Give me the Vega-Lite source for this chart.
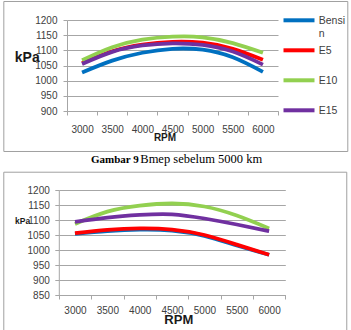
{
  "$schema": "https://vega.github.io/schema/vega-lite/v6.json",
  "padding": {"left": 3, "top": 0, "right": 3, "bottom": 0},
  "background": "white",
  "datasets": {
    "bmep_1": [
      {"rpm": 3000, "fuel": "Bensin", "kpa": 1027}, {"rpm": 3500, "fuel": "Bensin", "kpa": 1066}, {"rpm": 4000, "fuel": "Bensin", "kpa": 1092}, {"rpm": 4500, "fuel": "Bensin", "kpa": 1105}, {"rpm": 5000, "fuel": "Bensin", "kpa": 1102}, {"rpm": 5500, "fuel": "Bensin", "kpa": 1077}, {"rpm": 6000, "fuel": "Bensin", "kpa": 1029},
      {"rpm": 3000, "fuel": "E5", "kpa": 1058}, {"rpm": 3500, "fuel": "E5", "kpa": 1097}, {"rpm": 4000, "fuel": "E5", "kpa": 1119}, {"rpm": 4500, "fuel": "E5", "kpa": 1128}, {"rpm": 5000, "fuel": "E5", "kpa": 1125}, {"rpm": 5500, "fuel": "E5", "kpa": 1105}, {"rpm": 6000, "fuel": "E5", "kpa": 1069},
      {"rpm": 3000, "fuel": "E10", "kpa": 1067}, {"rpm": 3500, "fuel": "E10", "kpa": 1110}, {"rpm": 4000, "fuel": "E10", "kpa": 1135}, {"rpm": 4500, "fuel": "E10", "kpa": 1145}, {"rpm": 5000, "fuel": "E10", "kpa": 1143}, {"rpm": 5500, "fuel": "E10", "kpa": 1124}, {"rpm": 6000, "fuel": "E10", "kpa": 1092},
      {"rpm": 3000, "fuel": "E15", "kpa": 1055}, {"rpm": 3500, "fuel": "E15", "kpa": 1095}, {"rpm": 4000, "fuel": "E15", "kpa": 1116}, {"rpm": 4500, "fuel": "E15", "kpa": 1123}, {"rpm": 5000, "fuel": "E15", "kpa": 1118}, {"rpm": 5500, "fuel": "E15", "kpa": 1096}, {"rpm": 6000, "fuel": "E15", "kpa": 1053}
    ],
    "bmep_2": [
      {"rpm": 3000, "fuel": "Bensin", "kpa": 1054}, {"rpm": 3500, "fuel": "Bensin", "kpa": 1063}, {"rpm": 4000, "fuel": "Bensin", "kpa": 1068}, {"rpm": 4500, "fuel": "Bensin", "kpa": 1065}, {"rpm": 5000, "fuel": "Bensin", "kpa": 1047}, {"rpm": 5500, "fuel": "Bensin", "kpa": 1015}, {"rpm": 6000, "fuel": "Bensin", "kpa": 984},
      {"rpm": 3000, "fuel": "E5", "kpa": 1056}, {"rpm": 3500, "fuel": "E5", "kpa": 1067}, {"rpm": 4000, "fuel": "E5", "kpa": 1072}, {"rpm": 4500, "fuel": "E5", "kpa": 1068}, {"rpm": 5000, "fuel": "E5", "kpa": 1050}, {"rpm": 5500, "fuel": "E5", "kpa": 1018}, {"rpm": 6000, "fuel": "E5", "kpa": 984},
      {"rpm": 3000, "fuel": "E10", "kpa": 1087}, {"rpm": 3500, "fuel": "E10", "kpa": 1128}, {"rpm": 4000, "fuel": "E10", "kpa": 1148}, {"rpm": 4500, "fuel": "E10", "kpa": 1155}, {"rpm": 5000, "fuel": "E10", "kpa": 1145}, {"rpm": 5500, "fuel": "E10", "kpa": 1115}, {"rpm": 6000, "fuel": "E10", "kpa": 1072},
      {"rpm": 3000, "fuel": "E15", "kpa": 1094}, {"rpm": 3500, "fuel": "E15", "kpa": 1108}, {"rpm": 4000, "fuel": "E15", "kpa": 1117}, {"rpm": 4500, "fuel": "E15", "kpa": 1119}, {"rpm": 5000, "fuel": "E15", "kpa": 1105}, {"rpm": 5500, "fuel": "E15", "kpa": 1085}, {"rpm": 6000, "fuel": "E15", "kpa": 1063}
    ]
  },
  "spacing": 5,
  "vconcat": [
    {
      "width": 211,
      "height": 91,
      "layer": [
        {
          "data": {"values": [{}]},
          "mark": {"type": "rect", "fillOpacity": 0, "stroke": "#a0a0a0", "strokeWidth": 1},
          "encoding": {
            "x": {"datum": 1702, "type": "quantitative", "scale": {"domain": [2750, 6250], "nice": false, "zero": false},
              "axis": {"values": [2750, 3250, 3750, 4250, 4750, 5250, 5750, 6250], "labelExpr": "datum.value < 6000 ? format(datum.value + 250, 'd') : ''", "labelOffset": 15.07, "labelPadding": 9.5, "title": "RPM", "titleX": 97.5, "titleY": 29.6, "titleFontSize": 10}},
            "x2": {"datum": 7408},
            "y": {"datum": 1261, "type": "quantitative", "scale": {"domain": [900, 1200], "nice": false, "zero": false},
              "axis": {"values": [900, 950, 1000, 1050, 1100, 1150, 1200], "labelPadding": 6, "title": "kPa", "titleX": -52.7, "titleY": 41.7, "titleFontSize": 14}},
            "y2": {"datum": 766.5}
          }
        },
        {
          "data": {"name": "bmep_1"},
          "mark": {"type": "line", "interpolate": "natural", "strokeWidth": 3.8},
          "encoding": {
            "x": {"field": "rpm", "type": "quantitative", "scale": {"domain": [2750, 6250], "nice": false, "zero": false},
              "axis": {"values": [2750, 3250, 3750, 4250, 4750, 5250, 5750, 6250], "labelExpr": "datum.value < 6000 ? format(datum.value + 250, 'd') : ''", "labelOffset": 15.07, "labelPadding": 9.5, "title": "RPM", "titleX": 97.5, "titleY": 29.6, "titleFontSize": 10}},
            "y": {"field": "kpa", "type": "quantitative", "scale": {"domain": [900, 1200], "nice": false, "zero": false},
              "axis": {"values": [900, 950, 1000, 1050, 1100, 1150, 1200], "labelPadding": 6, "title": "kPa", "titleX": -52.7, "titleY": 41.7, "titleFontSize": 14}},
            "color": {
              "field": "fuel", "type": "nominal",
              "scale": {"domain": ["Bensin", "E5", "E10", "E15"], "range": ["#0070C0", "#FF0000", "#92D050", "#7030A0"]},
              "legend": {
                "orient": "none", "legendX": 222, "legendY": -9.7, "title": null, "padding": 0,
                "symbolType": "M-2,0H2", "symbolSize": 240.25, "symbolStrokeWidth": 4,
                "labelFont": "Liberation Sans", "labelFontSize": 10.5, "labelColor": "#404040", "labelOffset": 9.75,
                "labelBaseline": "alphabetic",
                "labelExpr": "datum.label == 'Bensin' ? ['Bensi', 'n'] : [datum.label, ' ']",
                "rowPadding": 0,
                "encode": {"labels": {"update": {"dy": {"value": 3.7}, "lineHeight": {"value": 12.85}}}}
              }
            }
          }
        },
        {
          "data": {"values": [{"caption": "Gambar 9"}]},
          "mark": {"type": "text", "font": "Liberation Serif", "fontWeight": "bold", "fontSize": 11, "align": "left", "baseline": "alphabetic", "color": "#000"},
          "encoding": {
            "text": {"field": "caption"},
            "x": {"datum": 3148, "type": "quantitative", "scale": {"domain": [2750, 6250], "nice": false, "zero": false},
              "axis": {"values": [2750, 3250, 3750, 4250, 4750, 5250, 5750, 6250], "labelExpr": "datum.value < 6000 ? format(datum.value + 250, 'd') : ''", "labelOffset": 15.07, "labelPadding": 9.5, "title": "RPM", "titleX": 97.5, "titleY": 29.6, "titleFontSize": 10}},
            "y": {"datum": 727.6, "type": "quantitative", "scale": {"domain": [900, 1200], "nice": false, "zero": false},
              "axis": {"values": [900, 950, 1000, 1050, 1100, 1150, 1200], "labelPadding": 6, "title": "kPa", "titleX": -52.7, "titleY": 41.7, "titleFontSize": 14}}
          }
        },
        {
          "data": {"values": [{"caption": "Bmep sebelum 5000 km"}]},
          "mark": {"type": "text", "font": "Liberation Serif", "fontSize": 12.5, "align": "left", "baseline": "alphabetic", "color": "#000"},
          "encoding": {
            "text": {"field": "caption"},
            "x": {"datum": 3966, "type": "quantitative", "scale": {"domain": [2750, 6250], "nice": false, "zero": false},
              "axis": {"values": [2750, 3250, 3750, 4250, 4750, 5250, 5750, 6250], "labelExpr": "datum.value < 6000 ? format(datum.value + 250, 'd') : ''", "labelOffset": 15.07, "labelPadding": 9.5, "title": "RPM", "titleX": 97.5, "titleY": 29.6, "titleFontSize": 10}},
            "y": {"datum": 727.6, "type": "quantitative", "scale": {"domain": [900, 1200], "nice": false, "zero": false},
              "axis": {"values": [900, 950, 1000, 1050, 1100, 1150, 1200], "labelPadding": 6, "title": "kPa", "titleX": -52.7, "titleY": 41.7, "titleFontSize": 14}}
          }
        }
      ]
    },
    {
      "width": 218.3,
      "height": 105,
      "layer": [
        {
          "data": {"values": [{}]},
          "mark": {"type": "rect", "fillOpacity": 0, "stroke": "#a0a0a0", "strokeWidth": 1},
          "encoding": {
            "x": {"datum": 1900, "type": "quantitative", "scale": {"domain": [2750, 6250], "range": [-8.2, 218.3], "nice": false, "zero": false},
              "axis": {"values": [2750, 3250, 3750, 4250, 4750, 5250, 5750, 6250], "labelExpr": "datum.value < 6000 ? format(datum.value + 250, 'd') : ''", "labelOffset": 16.18, "labelPadding": 6.5, "title": "RPM", "titleX": 111.3, "titleY": 28.4, "titleFontSize": 13}},
            "x2": {"datum": 7200},
            "y": {"datum": 1259.3, "type": "quantitative", "scale": {"domain": [850, 1200], "nice": false, "zero": false},
              "axis": {"values": [850, 900, 950, 1000, 1050, 1100, 1150, 1200], "offset": 8.2, "labelPadding": 5.5, "title": "kPa", "titleX": -44.2, "titleY": 33.7, "titleFontSize": 8.5}},
            "y2": {"datum": 729.3}
          }
        },
        {
          "data": {"name": "bmep_2"},
          "mark": {"type": "line", "interpolate": "natural", "strokeWidth": 3.8},
          "encoding": {
            "x": {"field": "rpm", "type": "quantitative", "scale": {"domain": [2750, 6250], "range": [-8.2, 218.3], "nice": false, "zero": false},
              "axis": {"values": [2750, 3250, 3750, 4250, 4750, 5250, 5750, 6250], "labelExpr": "datum.value < 6000 ? format(datum.value + 250, 'd') : ''", "labelOffset": 16.18, "labelPadding": 6.5, "title": "RPM", "titleX": 111.3, "titleY": 28.4, "titleFontSize": 13}},
            "y": {"field": "kpa", "type": "quantitative", "scale": {"domain": [850, 1200], "nice": false, "zero": false},
              "axis": {"values": [850, 900, 950, 1000, 1050, 1100, 1150, 1200], "offset": 8.2, "labelPadding": 5.5, "title": "kPa", "titleX": -44.2, "titleY": 33.7, "titleFontSize": 8.5}},
            "color": {
              "field": "fuel", "type": "nominal",
              "scale": {"domain": ["Bensin", "E5", "E10", "E15"], "range": ["#0070C0", "#FF0000", "#92D050", "#7030A0"]},
              "legend": {
                "orient": "none", "legendX": 223, "legendY": -11.3, "title": null, "padding": 0,
                "symbolType": "M-2,0H2", "symbolSize": 240.25, "symbolStrokeWidth": 4,
                "labelFont": "Liberation Sans", "labelFontSize": 10.5, "labelColor": "#404040", "labelOffset": 9.75,
                "labelBaseline": "alphabetic",
                "labelExpr": "datum.label == 'Bensin' ? ['Bensi', 'n'] : [datum.label, ' ']",
                "rowPadding": 0,
                "encode": {"labels": {"update": {"dy": {"value": 3.7}, "lineHeight": {"value": 12.5}}}}
              }
            }
          }
        }
      ]
    }
  ],
  "config": {
    "view": {"stroke": null},
    "axis": {
      "labelFont": "Liberation Sans", "labelFontSize": 10, "labelColor": "#404040",
      "tickSize": 4, "tickColor": "#a6a6a6", "tickWidth": 1,
      "domainColor": "#a6a6a6", "domainWidth": 1,
      "gridColor": "#a6a6a6", "gridWidth": 1,
      "titleFont": "Liberation Sans", "titleFontWeight": "bold", "titleColor": "#1a1a1a"
    },
    "axisX": {
      "grid": false, "labelFlush": false, "labelOverlap": false, "labelBound": false,
      "titleAlign": "center", "titleBaseline": "alphabetic"
    },
    "axisY": {
      "grid": true, "format": "d", "labelOverlap": false,
      "titleAngle": 0, "titleAlign": "left", "titleBaseline": "alphabetic"
    }
  }
}
